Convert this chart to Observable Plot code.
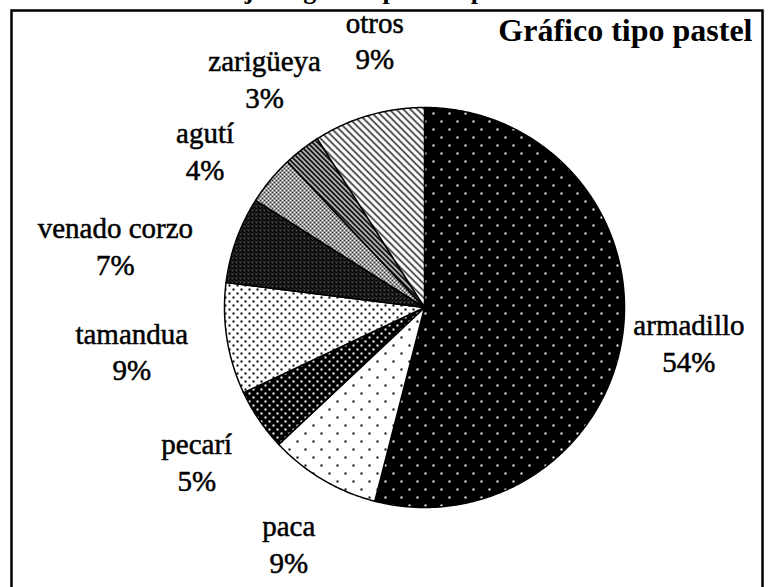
<!DOCTYPE html>
<html>
<head>
<meta charset="utf-8">
<script src="https://cdn.jsdelivr.net/npm/d3@7"></script>
<script src="https://cdn.jsdelivr.net/npm/@observablehq/plot@0.6"></script>
<style>
  html, body { margin: 0; padding: 0; background: #fff; }
</style>
</head>
<body>
<div id="chart"></div>
<script>
// ---------- data ----------
const categories = ["armadillo", "paca", "pecarí", "tamandua", "venado corzo", "agutí", "zarigüeya", "otros"];
const values = [54, 9, 5, 9, 7, 4, 3, 9];
const percentLabels = ["54%", "9%", "5%", "9%", "7%", "4%", "3%", "9%"];
const chartTitle = "Gráfico tipo pastel";
const cutTitle = "Porcentajes según su peso de presas";

// ---------- style ----------
const patternIds = ["pArm", "pPaca", "pPec", "pTam", "pVen", "pAgu", "pZar", "pOtr"];
const W = 769, H = 587;
const mTop = 10, mLeft = 11, mRight = 7;
const cx = 424, cy = 307, R = 200;
const labelFont = 29, lineH = 1.27;

// ---------- geometry from the data ----------
const total = d3.sum(values);
let acc = 0;
const slices = categories.map((name, i) => {
  const a0 = acc / total * 2 * Math.PI;
  acc += values[i];
  const a1 = acc / total * 2 * Math.PI;
  return {name, pct: percentLabels[i], a0, a1, mid: (a0 + a1) / 2, la: (a0 + a1) / 2, pattern: `url(#${patternIds[i]})`};
});

const points = [];
for (const s of slices) {
  points.push({name: s.name, pattern: s.pattern, x: 0, y: 0});
  const n = Math.max(2, Math.ceil((s.a1 - s.a0) / 0.01));
  for (let k = 0; k <= n; k++) {
    const a = s.a0 + (s.a1 - s.a0) * k / n;
    points.push({name: s.name, pattern: s.pattern, x: Math.sin(a), y: Math.cos(a)});
  }
  points.push({name: s.name, pattern: s.pattern, x: 0, y: 0});
}

// label layout: spread label angles, push each text block outside the pie, keep it inside the frame
const G = 22 * Math.PI / 180;
const order = slices.map((d, i) => i).sort((a, b) => slices[a].mid - slices[b].mid);
for (let it = 0; it < 400; it++) {
  for (let k = 1; k < order.length; k++) {
    const a = slices[order[k - 1]], b = slices[order[k]];
    const gap = b.la - a.la;
    if (gap < G) { const d = (G - gap) / 2; a.la -= d; b.la += d; }
  }
}
const ctx = document.createElement("canvas").getContext("2d");
ctx.font = `${labelFont}px "Liberation Serif"`;
const R0 = 1.2, pad = 18;
const labels = slices.map(s => {
  const ux = Math.sin(s.la), uy = Math.cos(s.la);
  const wpx = Math.max(ctx.measureText(s.name).width, ctx.measureText(s.pct).width);
  const w = wpx / R, h = 66 / R;
  let lx = R0 * ux + ux * w / 2;
  const ly = R0 * uy + uy * h / 2;
  const maxX = (W - mRight - pad - wpx / 2 - cx) / R;
  const minX = (mLeft + pad + wpx / 2 - cx) / R;
  lx = Math.min(maxX, Math.max(minX, lx));
  return {lx, ly, text: s.name + "\n" + s.pct};
});

const chart = Plot.plot({
  width: W,
  height: H,
  marginTop: mTop,
  marginLeft: mLeft,
  marginRight: mRight,
  marginBottom: 0,
  style: {fontFamily: "'Liberation Serif', serif", background: "white", color: "black"},
  x: {domain: [-1, 1], range: [cx - R, cx + R], axis: null},
  y: {domain: [-1, 1], range: [cy + R, cy - R], axis: null},
  color: {type: "identity"},
  marks: [
    Plot.frame({stroke: "black", strokeWidth: 2.5, insetBottom: -10}),
    Plot.line(points, {x: "x", y: "y", z: "name", fill: "pattern", stroke: "black", strokeWidth: 1.5, strokeLinejoin: "round"}),
    Plot.text(labels, {x: "lx", y: "ly", text: "text", fontSize: labelFont, lineHeight: lineH, textAnchor: "middle", lineAnchor: "middle", fill: "black", stroke: "black", strokeWidth: 0.5}),
    Plot.text([chartTitle], {text: d => d, frameAnchor: "top-right", textAnchor: "end", lineAnchor: "bottom", fontSize: 32, fontWeight: "bold", dx: -10, dy: 30, fill: "black"}),
    Plot.text([cutTitle], {text: d => d, frameAnchor: "top-left", textAnchor: "start", lineAnchor: "bottom", fontSize: 26, fontWeight: "bold", dx: 134, dy: -12, fill: "black"})
  ]
});

// ---------- fill patterns ----------
const defs = d3.select(chart).insert("defs", ":first-child");
function pattern(id, w, h, bg) {
  const p = defs.append("pattern").attr("id", id).attr("patternUnits", "userSpaceOnUse")
    .attr("width", w).attr("height", h);
  p.append("rect").attr("width", w).attr("height", h).attr("fill", bg);
  return p;
}
function dots(p, pts, size, color) {
  for (const [x, y] of pts) p.append("rect").attr("x", x).attr("y", y).attr("width", size).attr("height", size).attr("fill", color);
}
const back = w => `M-1,-1L${w + 1},${w + 1}M-1,${w - 1}L1,${w + 1}M${w - 1},-1L${w + 1},1`;
const fwd = w => `M-1,${w + 1}L${w + 1},-1M-1,1L1,-1M${w - 1},${w + 1}L${w + 1},${w - 1}`;

dots(pattern("pArm", 16, 16, "black"), [[0, 0], [8, 8]], 2, "white");
dots(pattern("pPaca", 16, 16, "white"), [[0, 0], [8, 8]], 2, "black");
dots(pattern("pPec", 8, 8, "black"), [[0, 0], [4, 4]], 2, "white");
dots(pattern("pTam", 8, 8, "white"), [[0, 0], [4, 4]], 2, "black");
pattern("pVen", 4, 4, "white").append("path").attr("d", back(4) + fwd(4)).attr("stroke", "black").attr("stroke-width", 1.8).attr("fill", "none");
pattern("pAgu", 4, 4, "white").append("path").attr("d", back(4) + fwd(4)).attr("stroke", "black").attr("stroke-width", 0.8).attr("fill", "none");
pattern("pZar", 5, 5, "white").append("path").attr("d", back(5)).attr("stroke", "black").attr("stroke-width", 2.2).attr("fill", "none");
pattern("pOtr", 7, 7, "white").append("path").attr("d", back(7)).attr("stroke", "black").attr("stroke-width", 1.3).attr("fill", "none");

document.getElementById("chart").appendChild(chart);
</script>
</body>
</html>
